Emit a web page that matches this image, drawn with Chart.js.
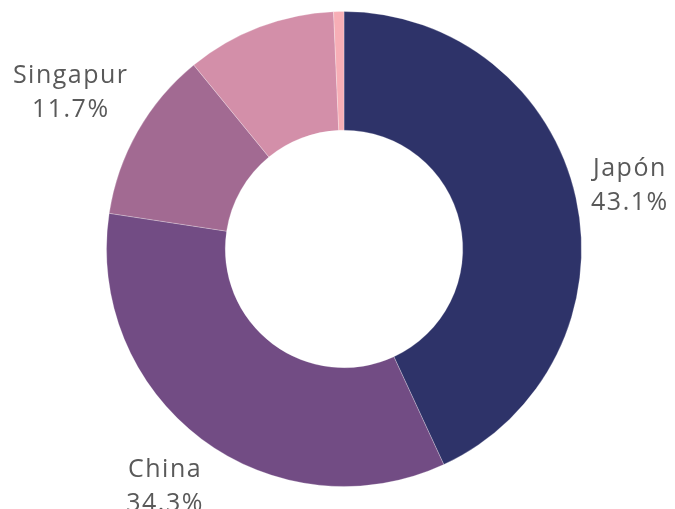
<!DOCTYPE html>
<html>
<head>
<meta charset="utf-8">
<script src="https://cdn.jsdelivr.net/npm/chart.js@4"></script>
<style>
  html, body { margin: 0; padding: 0; background: #fff; }
  #wrap { width: 675px; height: 509px; position: relative; }
</style>
</head>
<body>
<div id="wrap"><canvas id="myChart"></canvas></div>
<script>
// datos
var categorias = ["Japón", "China", "Singapur", "Otros", "Resto"];
var porcentajes = [43.1, 34.3, 11.7, 10.2, 0.7];
var colores = ["#2E3369", "#724C84", "#A26A92", "#D38FA9", "#F7AEB6"];
var mostrarEtiqueta = [true, true, true, false, false];

// etiquetas fuera del anillo: nombre + porcentaje
var etiquetasPlugin = {
    id: 'etiquetas',
    afterDatasetsDraw: function (chart) {
        var ctx = chart.ctx;
        var meta = chart.getDatasetMeta(0);
        ctx.save();
        ctx.font = '25px "Open Sans", sans-serif';
        ctx.letterSpacing = '1.5px';
        ctx.fillStyle = '#595959';
        ctx.textAlign = 'center';
        ctx.textBaseline = 'middle';
        var lineH = 34;
        meta.data.forEach(function (arc, i) {
            if (!mostrarEtiqueta[i]) return;
            var p = arc.getProps(['x', 'y', 'startAngle', 'endAngle', 'outerRadius']);
            var mid = (p.startAngle + p.endAngle) / 2;
            var dx = Math.cos(mid), dy = Math.sin(mid);
            var t1 = categorias[i];
            var t2 = porcentajes[i].toFixed(1) + '%';
            var w = Math.max(ctx.measureText(t1).width, ctx.measureText(t2).width);
            var h = lineH * 2;
            var off = p.outerRadius + 10 + Math.abs(dx) * w / 2 + Math.abs(dy) * h / 2;
            var cx = p.x + dx * off;
            var cy = p.y + dy * off;
            ctx.fillText(t1, cx, cy - lineH / 2);
            ctx.fillText(t2, cx, cy + lineH / 2);
        });
        ctx.restore();
    }
};

var ctx = document.getElementById('myChart').getContext('2d');
var grafico = new Chart(ctx, {
    type: 'doughnut',
    data: {
        labels: categorias,
        datasets: [{
            data: porcentajes,
            backgroundColor: colores,
            borderColor: 'rgba(255,255,255,0.25)',
            borderWidth: 1
        }]
    },
    options: {
        responsive: true,
        maintainAspectRatio: false,
        animation: false,
        cutout: '50%',
        layout: { padding: { left: 13, right: 0, top: 11, bottom: 22 } },
        plugins: {
            legend: { display: false },
            tooltip: { enabled: false }
        }
    },
    plugins: [etiquetasPlugin]
});
</script>
</body>
</html>
